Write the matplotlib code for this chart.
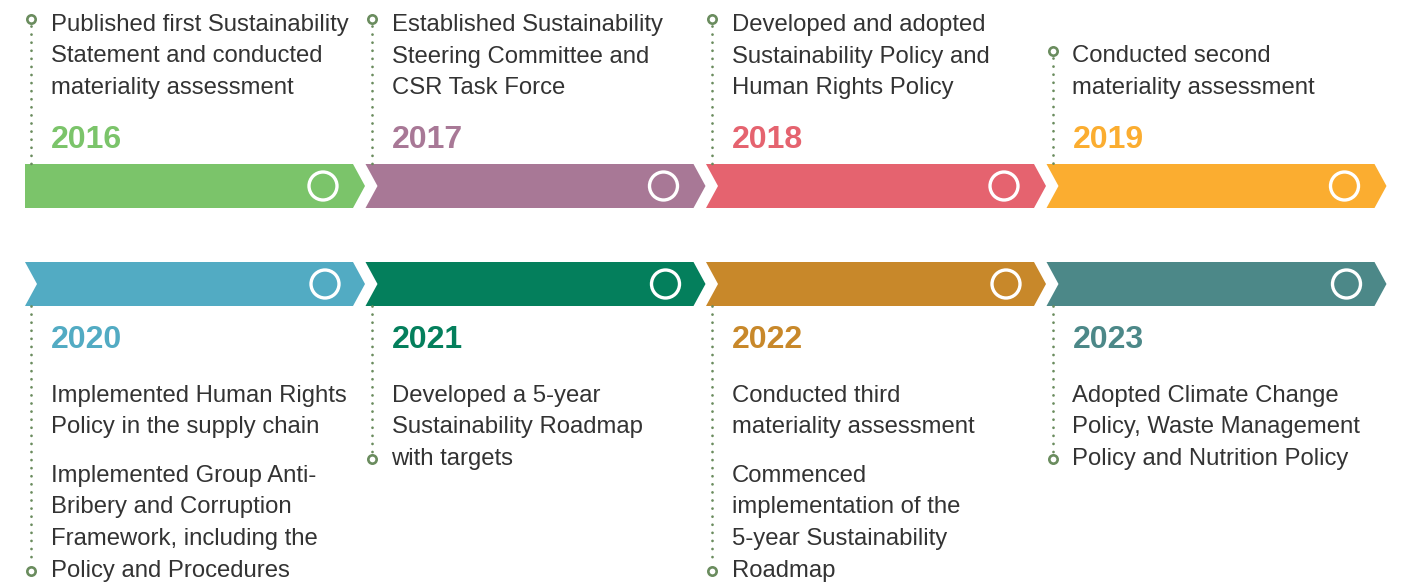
import matplotlib
matplotlib.use("Agg")
import matplotlib.pyplot as plt
from matplotlib.patches import Polygon, Circle

plt.rcParams['font.family'] = ['Liberation Sans', 'DejaVu Sans']

# timeline data
years = ["2016", "2017", "2018", "2019", "2020", "2021", "2022", "2023"]
colors = ["#7BC46A", "#A87896", "#E5636F", "#FBAD30",
          "#52ABC3", "#047F5C", "#C8882A", "#4C8888"]
events = [
    [["Published first Sustainability", "Statement and conducted", "materiality assessment"]],
    [["Established Sustainability", "Steering Committee and", "CSR Task Force"]],
    [["Developed and adopted", "Sustainability Policy and", "Human Rights Policy"]],
    [["Conducted second", "materiality assessment"]],
    [["Implemented Human Rights", "Policy in the supply chain"],
     ["Implemented Group Anti-", "Bribery and Corruption", "Framework, including the", "Policy and Procedures"]],
    [["Developed a 5-year", "Sustainability Roadmap", "with targets"]],
    [["Conducted third", "materiality assessment"],
     ["Commenced", "implementation of the", "5-year Sustainability", "Roadmap"]],
    [["Adopted Climate Change", "Policy, Waste Management", "Policy and Nutrition Policy"]],
]

W, H = 1404, 585
fig = plt.figure(figsize=(W / 100, H / 100), dpi=100)
ax = fig.add_axes([0, 0, 1, 1])
ax.set_xlim(0, W)
ax.set_ylim(H, 0)
ax.axis("off")

step = 340.5
seg_w = 340
depth = 12
bar_h = 44
line_h = 31.5
dot_col = "#6A8C5E"
text_col = "#333333"
fs_text = 17.2
fs_year = 23


def draw_arrow(x0, ytop, col, flat_left, cx):
    ym = ytop + bar_h / 2
    yb = ytop + bar_h
    pts = [(x0, ytop), (x0 + seg_w - depth, ytop), (x0 + seg_w, ym),
           (x0 + seg_w - depth, yb), (x0, yb)]
    if not flat_left:
        pts.append((x0 + depth, ym))
    ax.add_patch(Polygon(pts, closed=True, facecolor=col, edgecolor="none"))
    # white ring near the arrow tip
    ax.add_patch(Circle((x0 + cx, ym), 14, fill=False, edgecolor="white", lw=2.4))


def draw_stem(x, y1, y2, ycirc):
    ax.plot([x, x], [y1, y2], color=dot_col, lw=2.0,
            linestyle=(0, (0.01, 2.9)), dash_capstyle="round")
    ax.plot([x], [ycirc], marker="o", ms=6.0, mfc="white", mec=dot_col, mew=1.9)


for i in range(8):
    row = i // 4
    col = i % 4
    x0 = 25 + col * step
    tx = x0 + 26
    sx = x0 + 6
    if row == 0:
        ytop = 164
        draw_arrow(x0, ytop, colors[i], (col == 0), 298)
        lines = events[i][0]
        first = 94 - (len(lines) - 1) * line_h
        for k, s in enumerate(lines):
            ax.text(tx, first + k * line_h, s, fontsize=fs_text, color=text_col, va="baseline")
        ytop_circ = first - 12
        draw_stem(sx, ytop_circ + 7, ytop, ytop_circ)
        ax.text(tx, 148, years[i], fontsize=fs_year, fontweight="bold", color=colors[i], va="baseline")
    else:
        ytop = 262
        draw_arrow(x0, ytop, colors[i], False, 300)
        ax.text(tx, 348, years[i], fontsize=fs_year, fontweight="bold", color=colors[i], va="baseline")
        y = 402
        last = y
        for p, para in enumerate(events[i]):
            if p > 0:
                y += 17
            for s in para:
                ax.text(tx, y, s, fontsize=fs_text, color=text_col, va="baseline")
                last = y
                y += line_h
        ybot_circ = last - 6
        draw_stem(sx, ytop + bar_h, ybot_circ - 7, ybot_circ)

fig.savefig("out.png", dpi=100)
